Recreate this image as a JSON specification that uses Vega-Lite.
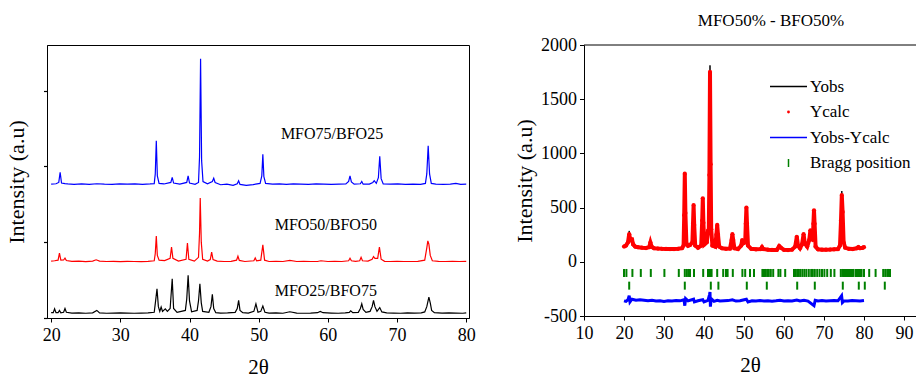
{
  "$schema": "https://vega.github.io/schema/vega-lite/v6.json",
  "padding": {"left": 5, "top": 12, "right": 0, "bottom": 0},
  "background": "white",
  "bounds": "flush",
  "spacing": 115,
  "resolve": {"scale": {"color": "independent"}, "legend": {"color": "independent"}},
  "config": {
    "font": "Liberation Serif",
    "view": {"stroke": "black", "strokeWidth": 1},
    "axis": {"labelFontSize": 18, "titleFontSize": 22, "labelColor": "black", "titleColor": "black", "titleFontWeight": "normal", "tickColor": "black", "domainColor": "black", "grid": false, "labelFont": "Liberation Serif", "titleFont": "Liberation Serif", "labelOverlap": false, "labelFlush": false},
    "title": {"font": "Liberation Serif", "fontWeight": "normal", "color": "black"}
  },
  "datasets": {
    "xrd": [
      {"s":"C","x":20,"y":7.06},{"s":"C","x":20.7,"y":7.08},{"s":"C","x":21.1,"y":7.15},{"s":"C","x":21.3,"y":7.68},{"s":"C","x":21.5,"y":7.12},{"s":"C","x":22.0,"y":7.09},{"s":"C","x":22.4,"y":7.07},{"s":"C","x":23.3,"y":7.05},{"s":"C","x":24.4,"y":7.07},{"s":"C","x":25.5,"y":7.05},{"s":"C","x":26.6,"y":7.08},{"s":"C","x":27.7,"y":7.06},{"s":"C","x":28.8,"y":7.05},{"s":"C","x":29.9,"y":7.07},{"s":"C","x":31.0,"y":7.06},{"s":"C","x":32.1,"y":7.07},{"s":"C","x":33.2,"y":7.05},{"s":"C","x":34.3,"y":7.07},{"s":"C","x":34.9,"y":7.09},{"s":"C","x":35.05,"y":7.6},{"s":"C","x":35.2,"y":9.35},{"s":"C","x":35.35,"y":7.5},{"s":"C","x":35.6,"y":7.1},{"s":"C","x":36.3,"y":7.07},{"s":"C","x":37.3,"y":7.15},{"s":"C","x":37.5,"y":7.42},{"s":"C","x":37.7,"y":7.12},{"s":"C","x":38.6,"y":7.06},{"s":"C","x":39.6,"y":7.15},{"s":"C","x":39.8,"y":7.5},{"s":"C","x":40.0,"y":7.12},{"s":"C","x":40.8,"y":7.05},{"s":"C","x":41.3,"y":7.15},{"s":"C","x":41.45,"y":8.5},{"s":"C","x":41.6,"y":13.68},{"s":"C","x":41.75,"y":8.3},{"s":"C","x":41.95,"y":7.2},{"s":"C","x":42.6,"y":7.08},{"s":"C","x":43.3,"y":7.2},{"s":"C","x":43.5,"y":7.37},{"s":"C","x":43.7,"y":7.15},{"s":"C","x":44.5,"y":7.03},{"s":"C","x":45.4,"y":7.06},{"s":"C","x":46.3,"y":7.0},{"s":"C","x":46.9,"y":7.08},{"s":"C","x":47.1,"y":7.24},{"s":"C","x":47.3,"y":7.05},{"s":"C","x":48.2,"y":7.0},{"s":"C","x":49.2,"y":7.04},{"s":"C","x":50.2,"y":7.1},{"s":"C","x":50.45,"y":7.5},{"s":"C","x":50.6,"y":8.63},{"s":"C","x":50.75,"y":7.45},{"s":"C","x":51.0,"y":7.1},{"s":"C","x":52.0,"y":7.06},{"s":"C","x":53.0,"y":7.07},{"s":"C","x":54.0,"y":7.05},{"s":"C","x":55.0,"y":7.07},{"s":"C","x":56.1,"y":7.06},{"s":"C","x":57.2,"y":7.05},{"s":"C","x":58.3,"y":7.07},{"s":"C","x":59.4,"y":7.06},{"s":"C","x":60.5,"y":7.05},{"s":"C","x":61.6,"y":7.06},{"s":"C","x":62.6,"y":7.07},{"s":"C","x":63.0,"y":7.2},{"s":"C","x":63.2,"y":7.5},{"s":"C","x":63.4,"y":7.18},{"s":"C","x":63.8,"y":7.06},{"s":"C","x":64.7,"y":7.08},{"s":"C","x":64.9,"y":7.2},{"s":"C","x":65.1,"y":7.06},{"s":"C","x":66.0,"y":7.06},{"s":"C","x":66.5,"y":7.15},{"s":"C","x":66.7,"y":7.24},{"s":"C","x":67.0,"y":7.1},{"s":"C","x":67.3,"y":7.4},{"s":"C","x":67.5,"y":8.53},{"s":"C","x":67.7,"y":7.35},{"s":"C","x":68.0,"y":7.07},{"s":"C","x":69.0,"y":7.06},{"s":"C","x":70.1,"y":7.07},{"s":"C","x":71.2,"y":7.05},{"s":"C","x":72.3,"y":7.06},{"s":"C","x":73.4,"y":7.05},{"s":"C","x":74.1,"y":7.1},{"s":"C","x":74.3,"y":7.6},{"s":"C","x":74.5,"y":9.09},{"s":"C","x":74.7,"y":7.6},{"s":"C","x":74.95,"y":7.1},{"s":"C","x":75.6,"y":7.06},{"s":"C","x":76.7,"y":7.05},{"s":"C","x":77.7,"y":7.06},{"s":"C","x":78.5,"y":7.1},{"s":"C","x":79.2,"y":7.05},{"s":"C","x":80,"y":7.06},
      {"s":"B","x":20,"y":3.0},{"s":"B","x":20.5,"y":3.02},{"s":"B","x":21.0,"y":3.05},{"s":"B","x":21.2,"y":3.42},{"s":"B","x":21.4,"y":3.05},{"s":"B","x":21.8,"y":3.06},{"s":"B","x":22.0,"y":3.16},{"s":"B","x":22.2,"y":3.03},{"s":"B","x":23.0,"y":2.99},{"s":"B","x":24.0,"y":3.0},{"s":"B","x":25.0,"y":2.97},{"s":"B","x":26.0,"y":3.0},{"s":"B","x":26.5,"y":3.07},{"s":"B","x":27.0,"y":3.0},{"s":"B","x":28,"y":2.98},{"s":"B","x":29,"y":2.99},{"s":"B","x":30,"y":2.97},{"s":"B","x":31,"y":2.99},{"s":"B","x":32,"y":2.98},{"s":"B","x":33,"y":2.97},{"s":"B","x":34,"y":2.99},{"s":"B","x":34.9,"y":3.02},{"s":"B","x":35.05,"y":3.4},{"s":"B","x":35.2,"y":4.32},{"s":"B","x":35.35,"y":3.3},{"s":"B","x":35.6,"y":3.05},{"s":"B","x":36.4,"y":3.03},{"s":"B","x":37.2,"y":3.15},{"s":"B","x":37.4,"y":3.74},{"s":"B","x":37.6,"y":3.15},{"s":"B","x":38.4,"y":3.0},{"s":"B","x":39.5,"y":3.1},{"s":"B","x":39.7,"y":3.95},{"s":"B","x":39.9,"y":3.1},{"s":"B","x":40.7,"y":3.0},{"s":"B","x":41.3,"y":3.2},{"s":"B","x":41.45,"y":4.5},{"s":"B","x":41.55,"y":6.33},{"s":"B","x":41.7,"y":4.0},{"s":"B","x":41.9,"y":3.1},{"s":"B","x":42.6,"y":3.0},{"s":"B","x":43.0,"y":3.08},{"s":"B","x":43.2,"y":3.47},{"s":"B","x":43.4,"y":3.08},{"s":"B","x":44,"y":3.0},{"s":"B","x":45,"y":2.98},{"s":"B","x":46,"y":2.99},{"s":"B","x":46.8,"y":3.05},{"s":"B","x":47.0,"y":3.26},{"s":"B","x":47.2,"y":3.04},{"s":"B","x":48,"y":2.98},{"s":"B","x":49.3,"y":3.02},{"s":"B","x":49.5,"y":3.17},{"s":"B","x":49.7,"y":3.01},{"s":"B","x":50.3,"y":3.05},{"s":"B","x":50.6,"y":3.86},{"s":"B","x":50.85,"y":3.05},{"s":"B","x":51.5,"y":2.98},{"s":"B","x":52.5,"y":2.99},{"s":"B","x":53.5,"y":2.98},{"s":"B","x":54.5,"y":3.04},{"s":"B","x":55.5,"y":2.98},{"s":"B","x":56.5,"y":2.99},{"s":"B","x":57.5,"y":2.98},{"s":"B","x":58.5,"y":2.98},{"s":"B","x":59,"y":3.02},{"s":"B","x":60,"y":2.98},{"s":"B","x":61,"y":2.99},{"s":"B","x":62,"y":2.98},{"s":"B","x":63.0,"y":3.02},{"s":"B","x":63.2,"y":3.15},{"s":"B","x":63.4,"y":3.02},{"s":"B","x":64.0,"y":2.99},{"s":"B","x":64.6,"y":3.02},{"s":"B","x":64.8,"y":3.2},{"s":"B","x":65.0,"y":3.02},{"s":"B","x":65.8,"y":3.0},{"s":"B","x":66.4,"y":3.1},{"s":"B","x":66.6,"y":3.24},{"s":"B","x":66.8,"y":3.15},{"s":"B","x":67.2,"y":3.15},{"s":"B","x":67.45,"y":3.74},{"s":"B","x":67.7,"y":3.1},{"s":"B","x":68.2,"y":2.99},{"s":"B","x":69,"y":2.98},{"s":"B","x":70,"y":2.99},{"s":"B","x":71,"y":2.98},{"s":"B","x":72,"y":2.98},{"s":"B","x":73,"y":2.99},{"s":"B","x":74.0,"y":3.05},{"s":"B","x":74.3,"y":3.7},{"s":"B","x":74.45,"y":4.07},{"s":"B","x":74.6,"y":3.9},{"s":"B","x":74.8,"y":3.3},{"s":"B","x":75.1,"y":3.02},{"s":"B","x":76,"y":2.99},{"s":"B","x":77,"y":2.98},{"s":"B","x":78,"y":2.99},{"s":"B","x":79,"y":2.98},{"s":"B","x":80,"y":2.99},
      {"s":"A","x":20,"y":0.28},{"s":"A","x":20.3,"y":0.28},{"s":"A","x":20.5,"y":0.49},{"s":"A","x":20.7,"y":0.28},{"s":"A","x":21.0,"y":0.28},{"s":"A","x":21.2,"y":0.4},{"s":"A","x":21.4,"y":0.27},{"s":"A","x":21.8,"y":0.3},{"s":"A","x":22.0,"y":0.5},{"s":"A","x":22.2,"y":0.3},{"s":"A","x":23,"y":0.26},{"s":"A","x":24,"y":0.27},{"s":"A","x":25,"y":0.25},{"s":"A","x":26,"y":0.27},{"s":"A","x":26.6,"y":0.4},{"s":"A","x":27.0,"y":0.27},{"s":"A","x":28,"y":0.25},{"s":"A","x":29,"y":0.26},{"s":"A","x":30,"y":0.27},{"s":"A","x":31,"y":0.26},{"s":"A","x":32,"y":0.25},{"s":"A","x":33,"y":0.26},{"s":"A","x":34,"y":0.27},{"s":"A","x":34.9,"y":0.3},{"s":"A","x":35.1,"y":0.9},{"s":"A","x":35.3,"y":1.54},{"s":"A","x":35.5,"y":0.6},{"s":"A","x":35.7,"y":0.35},{"s":"A","x":35.9,"y":0.58},{"s":"A","x":36.1,"y":0.35},{"s":"A","x":36.5,"y":0.48},{"s":"A","x":36.8,"y":0.35},{"s":"A","x":37.2,"y":0.5},{"s":"A","x":37.5,"y":2.07},{"s":"A","x":37.7,"y":0.5},{"s":"A","x":38.2,"y":0.3},{"s":"A","x":39.4,"y":0.4},{"s":"A","x":39.6,"y":1.0},{"s":"A","x":39.8,"y":2.25},{"s":"A","x":40.0,"y":0.9},{"s":"A","x":40.3,"y":0.33},{"s":"A","x":41.1,"y":0.4},{"s":"A","x":41.3,"y":0.9},{"s":"A","x":41.5,"y":1.81},{"s":"A","x":41.7,"y":0.8},{"s":"A","x":41.9,"y":0.35},{"s":"A","x":42.8,"y":0.3},{"s":"A","x":43.1,"y":0.6},{"s":"A","x":43.3,"y":1.25},{"s":"A","x":43.5,"y":0.5},{"s":"A","x":43.8,"y":0.28},{"s":"A","x":44.5,"y":0.26},{"s":"A","x":45.5,"y":0.27},{"s":"A","x":46.6,"y":0.3},{"s":"A","x":46.9,"y":0.5},{"s":"A","x":47.1,"y":0.93},{"s":"A","x":47.3,"y":0.4},{"s":"A","x":47.7,"y":0.28},{"s":"A","x":48.5,"y":0.26},{"s":"A","x":49.3,"y":0.35},{"s":"A","x":49.6,"y":0.75},{"s":"A","x":49.9,"y":0.3},{"s":"A","x":50.3,"y":0.35},{"s":"A","x":50.6,"y":0.63},{"s":"A","x":50.9,"y":0.3},{"s":"A","x":51.5,"y":0.26},{"s":"A","x":52.5,"y":0.27},{"s":"A","x":53.5,"y":0.25},{"s":"A","x":54.5,"y":0.33},{"s":"A","x":55.5,"y":0.26},{"s":"A","x":56.5,"y":0.25},{"s":"A","x":57.5,"y":0.26},{"s":"A","x":58.5,"y":0.28},{"s":"A","x":58.9,"y":0.35},{"s":"A","x":59.3,"y":0.28},{"s":"A","x":60.5,"y":0.26},{"s":"A","x":61.5,"y":0.25},{"s":"A","x":62.5,"y":0.27},{"s":"A","x":63.1,"y":0.3},{"s":"A","x":63.3,"y":0.38},{"s":"A","x":63.6,"y":0.28},{"s":"A","x":64.4,"y":0.3},{"s":"A","x":64.7,"y":0.5},{"s":"A","x":64.9,"y":0.75},{"s":"A","x":65.1,"y":0.45},{"s":"A","x":65.5,"y":0.3},{"s":"A","x":66.1,"y":0.35},{"s":"A","x":66.4,"y":0.6},{"s":"A","x":66.6,"y":0.93},{"s":"A","x":66.8,"y":0.6},{"s":"A","x":67.1,"y":0.35},{"s":"A","x":67.5,"y":0.55},{"s":"A","x":67.8,"y":0.32},{"s":"A","x":68.5,"y":0.27},{"s":"A","x":69.5,"y":0.26},{"s":"A","x":70.5,"y":0.25},{"s":"A","x":71.5,"y":0.27},{"s":"A","x":72.5,"y":0.26},{"s":"A","x":73.5,"y":0.27},{"s":"A","x":74.0,"y":0.32},{"s":"A","x":74.3,"y":0.6},{"s":"A","x":74.6,"y":1.1},{"s":"A","x":74.8,"y":0.8},{"s":"A","x":75.0,"y":0.4},{"s":"A","x":75.4,"y":0.28},{"s":"A","x":76.5,"y":0.26},{"s":"A","x":77.5,"y":0.27},{"s":"A","x":78.5,"y":0.26},{"s":"A","x":79.5,"y":0.25},{"s":"A","x":80,"y":0.27}
    ],
    "labels": [
      {"x":60.6,"y":9.68,"t":"MFO75/BFO25"},
      {"x":59.7,"y":4.89,"t":"MFO50/BFO50"},
      {"x":59.7,"y":1.4,"t":"MFO25/BFO75"}
    ],
    "rv": [
      {"x":20,"o":145,"c":140},{"x":20.5,"o":150,"c":150},{"x":21.0,"o":170,"c":180},{"x":21.3,"o":285,"c":255},{"x":21.6,"o":190,"c":200},{"x":22.0,"o":200,"c":205},{"x":22.3,"o":160,"c":160},{"x":22.8,"o":140,"c":140},{"x":23.5,"o":135,"c":135},{"x":24.5,"o":130,"c":130},{"x":25.5,"o":128,"c":127},{"x":26.3,"o":135,"c":135},{"x":26.6,"o":175,"c":178},{"x":26.9,"o":140,"c":140},{"x":27.5,"o":126,"c":125},{"x":28.5,"o":122,"c":122},{"x":29.5,"o":120,"c":120},{"x":30.5,"o":119,"c":119},{"x":31.5,"o":118,"c":118},{"x":32.5,"o":118,"c":118},{"x":33.5,"o":120,"c":120},{"x":34.5,"o":125,"c":125},{"x":34.9,"o":150,"c":150},{"x":35.05,"o":450,"c":430},{"x":35.2,"o":805,"c":813},{"x":35.35,"o":430,"c":450},{"x":35.6,"o":170,"c":170},{"x":36.0,"o":150,"c":148},{"x":36.5,"o":150,"c":155},{"x":37.1,"o":180,"c":180},{"x":37.25,"o":350,"c":350},{"x":37.4,"o":520,"c":524},{"x":37.55,"o":340,"c":340},{"x":37.8,"o":150,"c":150},{"x":38.5,"o":130,"c":130},{"x":39.3,"o":150,"c":150},{"x":39.55,"o":380,"c":380},{"x":39.7,"o":580,"c":586},{"x":39.85,"o":350,"c":360},{"x":40.1,"o":160,"c":160},{"x":40.7,"o":180,"c":180},{"x":41.0,"o":280,"c":285},{"x":41.2,"o":300,"c":300},{"x":41.35,"o":800,"c":800},{"x":41.5,"o":1812,"c":1751},{"x":41.65,"o":900,"c":900},{"x":41.8,"o":300,"c":300},{"x":42.1,"o":150,"c":150},{"x":42.8,"o":140,"c":140},{"x":43.1,"o":250,"c":250},{"x":43.3,"o":340,"c":340},{"x":43.5,"o":250,"c":250},{"x":43.8,"o":140,"c":140},{"x":44.5,"o":125,"c":125},{"x":45.5,"o":120,"c":120},{"x":46.5,"o":122,"c":122},{"x":46.9,"o":200,"c":200},{"x":47.1,"o":255,"c":255},{"x":47.3,"o":200,"c":200},{"x":47.6,"o":125,"c":125},{"x":48.5,"o":118,"c":118},{"x":49.3,"o":150,"c":150},{"x":49.55,"o":200,"c":200},{"x":49.8,"o":170,"c":170},{"x":50.3,"o":180,"c":180},{"x":50.45,"o":350,"c":350},{"x":50.6,"o":500,"c":500},{"x":50.75,"o":350,"c":350},{"x":51.0,"o":150,"c":150},{"x":51.8,"o":120,"c":120},{"x":53,"o":115,"c":115},{"x":54.2,"o":118,"c":118},{"x":54.5,"o":135,"c":135},{"x":54.8,"o":118,"c":118},{"x":56,"o":112,"c":112},{"x":57,"o":110,"c":110},{"x":58.2,"o":110,"c":110},{"x":58.8,"o":140,"c":145},{"x":59.2,"o":130,"c":130},{"x":60,"o":110,"c":110},{"x":61,"o":108,"c":108},{"x":62,"o":112,"c":112},{"x":62.8,"o":140,"c":140},{"x":63.2,"o":230,"c":230},{"x":63.5,"o":150,"c":150},{"x":64.0,"o":125,"c":125},{"x":64.5,"o":160,"c":160},{"x":64.9,"o":255,"c":255},{"x":65.2,"o":170,"c":170},{"x":65.8,"o":140,"c":140},{"x":66.3,"o":200,"c":200},{"x":66.6,"o":291,"c":291},{"x":66.9,"o":250,"c":250},{"x":67.2,"o":200,"c":200},{"x":67.35,"o":350,"c":350},{"x":67.5,"o":475,"c":475},{"x":67.65,"o":350,"c":350},{"x":67.9,"o":140,"c":140},{"x":68.5,"o":115,"c":115},{"x":69.5,"o":112,"c":112},{"x":70.5,"o":112,"c":112},{"x":71.5,"o":113,"c":113},{"x":72.5,"o":115,"c":115},{"x":73.5,"o":118,"c":118},{"x":74.0,"o":150,"c":150},{"x":74.25,"o":400,"c":380},{"x":74.45,"o":653,"c":616},{"x":74.65,"o":450,"c":460},{"x":74.9,"o":180,"c":180},{"x":75.3,"o":130,"c":130},{"x":76.2,"o":120,"c":120},{"x":77.2,"o":118,"c":118},{"x":78.2,"o":125,"c":125},{"x":78.6,"o":135,"c":135},{"x":79.0,"o":125,"c":125},{"x":79.6,"o":128,"c":128},{"x":80,"o":150,"c":135}
    ],
    "diff": [
      {"x":20,"d":-360},{"x":20.5,"d":-365},{"x":21,"d":-350},{"x":21.3,"d":-313},{"x":21.5,"d":-370},{"x":22,"d":-345},{"x":23,"d":-355},{"x":24,"d":-350},{"x":25,"d":-355},{"x":26,"d":-360},{"x":27,"d":-355},{"x":28,"d":-362},{"x":29,"d":-360},{"x":30,"d":-365},{"x":31,"d":-360},{"x":32,"d":-362},{"x":33,"d":-358},{"x":34,"d":-360},{"x":35.0,"d":-350},{"x":35.2,"d":-405},{"x":35.4,"d":-340},{"x":36,"d":-360},{"x":37.4,"d":-345},{"x":37.6,"d":-370},{"x":38.5,"d":-360},{"x":39.7,"d":-350},{"x":40,"d":-370},{"x":41.0,"d":-355},{"x":41.4,"d":-300},{"x":41.5,"d":-279},{"x":41.6,"d":-414},{"x":41.8,"d":-340},{"x":42.5,"d":-365},{"x":43.3,"d":-355},{"x":44,"d":-362},{"x":45,"d":-360},{"x":46,"d":-358},{"x":47.1,"d":-350},{"x":48,"d":-362},{"x":49,"d":-360},{"x":50.6,"d":-345},{"x":51,"d":-370},{"x":52,"d":-360},{"x":53,"d":-362},{"x":54,"d":-358},{"x":55,"d":-362},{"x":56,"d":-360},{"x":57,"d":-363},{"x":58,"d":-360},{"x":59,"d":-355},{"x":60,"d":-362},{"x":61,"d":-360},{"x":62,"d":-362},{"x":63.2,"d":-352},{"x":64,"d":-362},{"x":65,"d":-355},{"x":66,"d":-362},{"x":67.5,"d":-405},{"x":67.8,"d":-355},{"x":68.5,"d":-362},{"x":69.5,"d":-358},{"x":70.5,"d":-362},{"x":71.5,"d":-360},{"x":72.5,"d":-358},{"x":73.5,"d":-360},{"x":74.4,"d":-313},{"x":74.6,"d":-375},{"x":75,"d":-360},{"x":76,"d":-362},{"x":77,"d":-358},{"x":78,"d":-360},{"x":79,"d":-362},{"x":80,"d":-358}
    ],
    "bragg": [
      {"x":20.0,"r":-103},{"x":20.6,"r":-103},{"x":22.1,"r":-103},{"x":24.2,"r":-103},{"x":26.7,"r":-103},{"x":30.1,"r":-103},{"x":33.7,"r":-103},{"x":35.2,"r":-103},{"x":35.7,"r":-103},{"x":36.1,"r":-103},{"x":36.5,"r":-103},{"x":37.5,"r":-103},{"x":39.8,"r":-103},{"x":41.0,"r":-103},{"x":41.5,"r":-103},{"x":41.9,"r":-103},{"x":43.3,"r":-103},{"x":44.8,"r":-103},{"x":45.5,"r":-103},{"x":45.9,"r":-103},{"x":47.2,"r":-103},{"x":49.6,"r":-103},{"x":50.3,"r":-103},{"x":51.5,"r":-103},{"x":52.5,"r":-103},{"x":54.6,"r":-103},{"x":55.0,"r":-103},{"x":55.4,"r":-103},{"x":55.8,"r":-103},{"x":56.2,"r":-103},{"x":56.7,"r":-103},{"x":57.3,"r":-103},{"x":58.6,"r":-103},{"x":59.1,"r":-103},{"x":60.3,"r":-103},{"x":62.5,"r":-103},{"x":62.9,"r":-103},{"x":63.3,"r":-103},{"x":63.7,"r":-103},{"x":64.1,"r":-103},{"x":64.6,"r":-103},{"x":65.1,"r":-103},{"x":65.6,"r":-103},{"x":66.2,"r":-103},{"x":66.8,"r":-103},{"x":67.2,"r":-103},{"x":67.7,"r":-103},{"x":68.3,"r":-103},{"x":68.9,"r":-103},{"x":69.5,"r":-103},{"x":70.1,"r":-103},{"x":70.8,"r":-103},{"x":71.7,"r":-103},{"x":72.6,"r":-103},{"x":74.2,"r":-103},{"x":74.6,"r":-103},{"x":75.0,"r":-103},{"x":75.5,"r":-103},{"x":76.0,"r":-103},{"x":76.5,"r":-103},{"x":77.0,"r":-103},{"x":77.4,"r":-103},{"x":78.0,"r":-103},{"x":78.5,"r":-103},{"x":79.0,"r":-103},{"x":79.4,"r":-103},{"x":80.0,"r":-103},{"x":81.3,"r":-103},{"x":82.9,"r":-103},{"x":84.8,"r":-103},{"x":85.3,"r":-103},{"x":85.8,"r":-103},{"x":86.2,"r":-103},{"x":86.5,"r":-103},
      {"x":21.3,"r":-220},{"x":35.2,"r":-220},{"x":41.7,"r":-220},{"x":43.6,"r":-220},{"x":50.7,"r":-220},{"x":55.7,"r":-220},{"x":63.3,"r":-220},{"x":67.7,"r":-220},{"x":74.7,"r":-220},{"x":78.7,"r":-220},{"x":80.2,"r":-220},{"x":85.2,"r":-220}
    ]
  },
  "hconcat": [
    {
      "width": 422,
      "height": 273,
      "layer": [
        {
          "data": {"name": "xrd"},
          "mark": {"type": "line", "strokeWidth": 1.2},
          "encoding": {
            "x": {"field": "x", "type": "quantitative", "scale": {"domain": [19.4, 80.4], "nice": false, "zero": false},
                  "axis": {"title": "2θ", "titleFontSize": 21, "values": [20,25,30,35,40,45,50,55,60,65,70,75,80],
                           "labelExpr": "datum.value % 10 === 0 ? datum.label : ''", "labelFont": "Liberation Serif",
                           "tickSize": 4, "labelPadding": 4, "titlePadding": 12}},
            "y": {"field": "y", "type": "quantitative", "scale": {"domain": [0, 14.4], "nice": false, "zero": false},
                  "axis": {"title": "Intensity (a.u)", "labels": false,
                           "values": [0,0.5,1,1.5,2,2.5,3,3.5,4,4.5,5,5.5,6,6.5,7,7.5,8,8.5,9,9.5,10,10.5,11,11.5,12,12.5,13,13.5,14],
                           "tickSize": 3.5, "tickWidth": 1.2, "titlePadding": 14}},
            "color": {"field": "s", "type": "nominal", "scale": {"domain": ["A","B","C"], "range": ["#000000","#ff0000","#0000ff"]}, "legend": null},
            "detail": {"field": "s"}
          }
        },
        {
          "data": {"name": "labels"},
          "mark": {"type": "text", "fontSize": 16, "align": "center", "baseline": "middle", "color": "black", "font": "Liberation Serif"},
          "encoding": {
            "x": {"field": "x", "type": "quantitative"},
            "y": {"field": "y", "type": "quantitative"},
            "text": {"field": "t"}
          }
        }
      ]
    },
    {
      "width": 332,
      "height": 271,
      "view": {"stroke": null},
      "title": {"text": "MFO50% - BFO50%", "fontSize": 17, "offset": 6, "dx": 21},
      "layer": [
        {
          "data": {"values": [{}]},
          "mark": {"type": "rule", "color": "black", "strokeWidth": 1},
          "encoding": {"y": {"datum": 2000, "type": "quantitative", "scale": {"domain": [-500, 2000], "nice": false}}}
        },
        {
          "data": {"name": "rv"},
          "mark": {"type": "line", "strokeWidth": 1},
          "encoding": {
            "x": {"field": "x", "type": "quantitative", "scale": {"domain": [10, 93], "nice": false, "zero": false},
                  "axis": {"title": "2θ", "titleFontSize": 21, "values": [10,15,20,25,30,35,40,45,50,55,60,65,70,75,80,85,90],
                           "labelExpr": "datum.value % 10 === 0 ? datum.label : ''", "labelFont": "Liberation Serif",
                           "tickSize": 4, "labelPadding": 4, "titlePadding": 12}},
            "y": {"field": "o", "type": "quantitative", "scale": {"domain": [-500, 2000], "nice": false},
                  "axis": {"title": "Intensity (a.u)", "values": [-500,-250,0,250,500,750,1000,1250,1500,1750,2000],
                           "labelExpr": "datum.value % 500 === 0 ? '' + datum.value : ''", "labelFont": "Liberation Serif",
                           "tickSize": 4.5, "labelPadding": 3, "titlePadding": 4}},
            "color": {"datum": "Yobs", "type": "nominal",
                      "scale": {"domain": ["Yobs", "Ycalc", "Yobs-Ycalc", "Bragg position"], "range": ["#000000", "#ff0000", "#0000ff", "#008000"]},
                      "legend": {"orient": "none", "legendX": 196, "legendY": 33, "title": null, "labelFontSize": 17, "labelFont": "Liberation Serif", "labelColor": "black",
                                 "symbolType": "stroke", "symbolSize": 1369, "symbolStrokeWidth": 1.5, "rowPadding": 7.5, "labelOffset": 13, "padding": 0,
                                 "encode": {"symbols": {"update": {
                                   "shape": {"signal": "datum.value === 'Ycalc' ? 'circle' : datum.value === 'Bragg position' ? 'M0,-1L0,1' : 'stroke'"},
                                   "size": {"signal": "datum.value === 'Ycalc' ? 8 : datum.value === 'Bragg position' ? 64 : 1369"},
                                   "fill": {"signal": "datum.value === 'Ycalc' ? '#ff0000' : 'transparent'"},
                                   "stroke": {"signal": "datum.value === 'Yobs' ? '#000000' : datum.value === 'Ycalc' ? '#ff0000' : datum.value === 'Yobs-Ycalc' ? '#0000ff' : '#008000'"},
                                   "strokeWidth": {"signal": "datum.value === 'Ycalc' ? 0 : 1.5"},
                                   "opacity": {"value": 1}
                                 }}}}}
          }
        },
        {
          "data": {"name": "rv"},
          "mark": {"type": "line", "strokeWidth": 4, "point": {"filled": true, "size": 18}},
          "encoding": {
            "x": {"field": "x", "type": "quantitative"},
            "y": {"field": "c", "type": "quantitative", "title": "Intensity (a.u)"},
            "color": {"datum": "Ycalc", "type": "nominal"}
          }
        },
        {
          "data": {"name": "diff"},
          "mark": {"type": "line", "strokeWidth": 3},
          "encoding": {
            "x": {"field": "x", "type": "quantitative"},
            "y": {"field": "d", "type": "quantitative", "title": "Intensity (a.u)"},
            "color": {"datum": "Yobs-Ycalc", "type": "nominal"}
          }
        },
        {
          "data": {"name": "bragg"},
          "mark": {"type": "tick", "orient": "vertical", "size": 8, "thickness": 2, "opacity": 1},
          "encoding": {
            "x": {"field": "x", "type": "quantitative"},
            "y": {"field": "r", "type": "quantitative", "title": "Intensity (a.u)"},
            "color": {"datum": "Bragg position", "type": "nominal"}
          }
        }
      ]
    }
  ]
}
